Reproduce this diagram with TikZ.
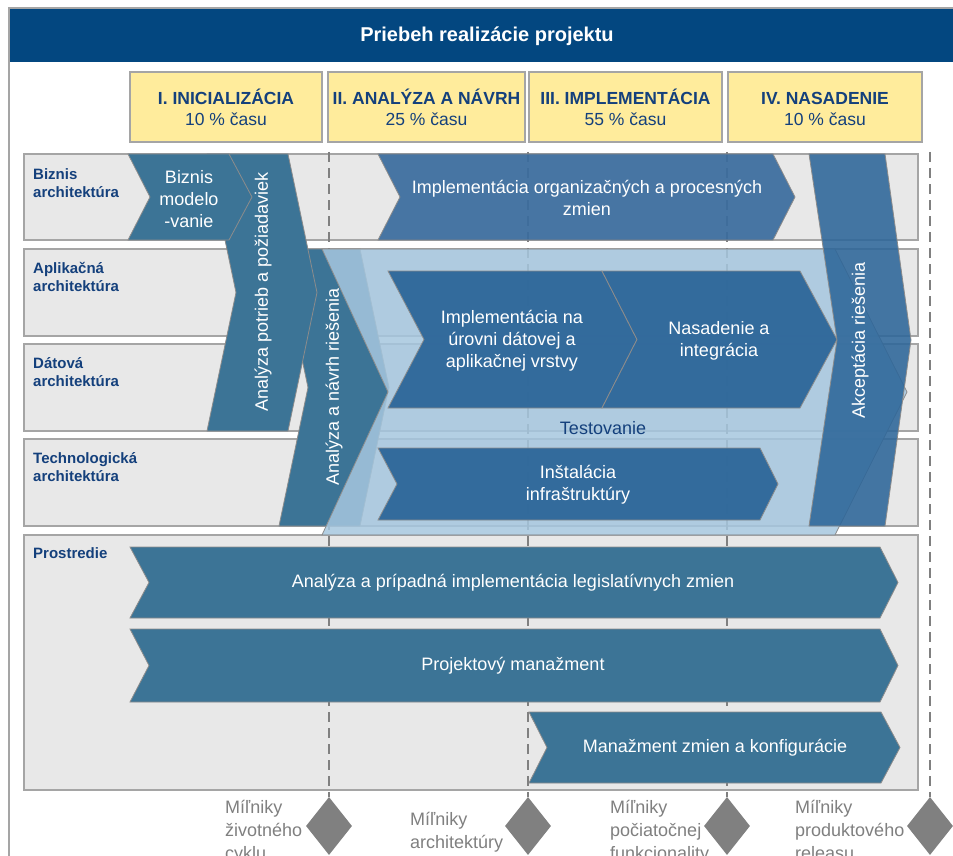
\documentclass[tikz,border=0pt]{standalone}
\usepackage{fontspec}
\setmainfont{Liberation Sans}
\usetikzlibrary{shapes.geometric}

\definecolor{titleblue}{RGB}{3,71,128}
\definecolor{phaseyellow}{RGB}{255,236,156}
\definecolor{labelblue}{RGB}{20,64,124}
\definecolor{rowgray}{RGB}{232,232,232}
\definecolor{framegray}{RGB}{165,165,165}
\definecolor{edgegray}{RGB}{140,140,140}
\definecolor{steel}{RGB}{60,116,150}
\definecolor{bizblue}{RGB}{58,108,158}
\definecolor{darkblue}{RGB}{45,102,153}
\definecolor{testblue}{RGB}{166,199,223}
\definecolor{milegray}{RGB}{128,128,128}

\begin{document}
\begin{tikzpicture}[x=1pt,y=-1pt]

		\tikzstyle{rowbox}=[fill=rowgray,draw=framegray,line width=1.2pt]
		\tikzstyle{phasebox}=[fill=phaseyellow,draw=framegray,line width=1.2pt]
		\tikzstyle{phasetext}=[text=labelblue,align=center,inner sep=0pt,font=\fontsize{17.5}{21}\selectfont]
		\tikzstyle{rowlabel}=[anchor=north west,inner sep=0pt,align=left,text=labelblue,font=\fontsize{15}{18.5}\selectfont\bfseries]
		\tikzstyle{chev}=[fill=steel,draw=edgegray,line width=0.8pt]
		\tikzstyle{innerchev}=[fill=darkblue,draw=edgegray,line width=0.8pt,fill opacity=0.95]
		\tikzstyle{chevtext}=[text=white,align=center,inner sep=0pt,font=\fontsize{18}{22}\selectfont]
		\tikzstyle{milestone}=[shape=diamond,fill=milegray,minimum width=46pt,minimum height=58pt,inner sep=0pt]
		\tikzstyle{miletext}=[anchor=north west,inner sep=0pt,align=left,text=milegray,font=\fontsize{18}{23}\selectfont]
		\tikzstyle{timeline}=[milegray,line width=2.5pt,dash pattern=on 10pt off 6pt]

		\useasboundingbox (0,0) rectangle (953,856);
		\clip (0,0) rectangle (953,856);
		\fill[white] (0,0) rectangle (953,856);

		% title
		\fill[titleblue] (9,8) rectangle (953,62);
		\draw[framegray,line width=1.2pt] (9,856) -- (9,8) -- (953,8);
		\node[text=white,font=\fontsize{20}{24}\selectfont\bfseries] (title) at (487,36) {Priebeh realizácie projektu};

		% phases
		\draw[phasebox] (130,72) rectangle (322,142);
		\draw[phasebox] (328,72) rectangle (525,142);
		\draw[phasebox] (529,72) rectangle (722,142);
		\draw[phasebox] (728,72) rectangle (922,142);
		\node[phasetext] (ph1) at (226,110) {\rule{0pt}{17pt}\textbf{I. INICIALIZÁCIA}\\\strut 10 \% času};
		\node[phasetext] (ph2) at (426.5,110) {\rule{0pt}{17pt}\textbf{II. ANALÝZA A NÁVRH}\\\strut 25 \% času};
		\node[phasetext] (ph3) at (625.5,110) {\rule{0pt}{17pt}\textbf{III. IMPLEMENTÁCIA}\\\strut 55 \% času};
		\node[phasetext] (ph4) at (825,110) {\rule{0pt}{17pt}\textbf{IV. NASADENIE}\\\strut 10 \% času};

		% rows
		\draw[rowbox] (24,154) rectangle (918,240);
		\draw[rowbox] (24,249) rectangle (918,336);
		\draw[rowbox] (24,344) rectangle (918,431);
		\draw[rowbox] (24,439) rectangle (918,526);
		\draw[rowbox] (24,535) rectangle (918,790);
		\node[rowlabel] (biz) at (33,168) {Biznis\\architektúra};
		\node[rowlabel] (apl) at (33,262) {Aplikačná\\architektúra};
		\node[rowlabel] (dat) at (33,357) {Dátová\\architektúra};
		\node[rowlabel] (tech) at (33,452) {Technologická\\architektúra};
		\node[rowlabel] (pros) at (33,547) {Prostredie};

		% milestones
		\foreach \x [count=\i] in {329,528,727,930} {
			\node[milestone] (m\i) at (\x,826) {};
			\coordinate (t\i) at (\x,152);
			\draw[timeline] (t\i) -- (m\i.north);
		}

		% chevrons
		\draw[chev] (279,249) -- (360,249) -- (389,387.5) -- (360,526) -- (279,526) -- (308,387.5) -- cycle;
		\draw[chev] (207,154) -- (288,154) -- (317,292.5) -- (288,431) -- (207,431) -- (236,292.5) -- cycle;
		\draw[chev] (128,154) -- (229,154) -- (252,197) -- (229,240) -- (128,240) -- (150,197) -- cycle;
		\draw[chev,fill=bizblue,fill opacity=0.92] (378,154) -- (773,154) -- (795,197) -- (773,240) -- (378,240) -- (400,197) -- cycle;

		\draw[fill=testblue,fill opacity=0.85,draw=edgegray,line width=0.8pt] (322,249) -- (835,249) -- (907,392) -- (835,535) -- (322,535) -- (388,392) -- cycle;
		\draw[innerchev] (388,271) -- (602,271) -- (637,339.5) -- (602,408) -- (388,408) -- (424,339.5) -- cycle;
		\draw[innerchev] (602,271) -- (800,271) -- (837,339.5) -- (800,408) -- (602,408) -- (637,339.5) -- cycle;
		\draw[innerchev] (378,448) -- (760,448) -- (778,484) -- (760,520) -- (378,520) -- (397,484) -- cycle;
		\draw[innerchev,fill opacity=0.88] (809,154) -- (885,154) -- (911,340) -- (885,526) -- (809,526) -- (837,340) -- cycle;

		\draw[chev] (130,547) -- (880,547) -- (898,582.5) -- (880,618) -- (130,618) -- (149,582.5) -- cycle;
		\draw[chev] (130,629) -- (880,629) -- (898,665.5) -- (880,702) -- (130,702) -- (149,665.5) -- cycle;
		\draw[chev] (529,712) -- (881,712) -- (900,747.5) -- (881,783) -- (529,783) -- (547,747.5) -- cycle;

		% chevron texts
		\node[chevtext] (bmod) at (189,199) {Biznis\\modelo\\-vanie};
		\node[chevtext,rotate=90] (apot) at (263,292) {Analýza potrieb a požiadaviek};
		\node[chevtext,rotate=90] (anav) at (334,387) {Analýza a návrh riešenia};
		\node[chevtext] (iorg) at (587,198) {Implementácia organizačných a procesných\\zmien};
		\node[chevtext] (iudv) at (512,341) {Implementácia na\\úrovni dátovej a\\aplikačnej vrstvy};
		\node[chevtext] (nint) at (719,341) {Nasadenie a\\integrácia};
		\node[chevtext] (inst) at (578,485) {Inštalácia\\infraštruktúry};
		\node[chevtext,text=labelblue] (test) at (603,428) {Testovanie};
		\node[chevtext,rotate=90] (akc) at (860,340) {Akceptácia riešenia};
		\node[chevtext] (leg) at (513,583) {Analýza a prípadná implementácia legislatívnych zmien};
		\node[chevtext] (pm) at (513,666) {Projektový manažment};
		\node[chevtext] (mzk) at (715,748) {Manažment zmien a konfigurácie};

		% milestone texts
		\node[miletext] (ml1) at (225,800) {Míľniky\\životného\\cyklu};
		\node[miletext] (ml2) at (410,812) {Míľniky\\architektúry};
		\node[miletext] (ml3) at (610,800) {Míľniky\\počiatočnej\\funkcionality};
		\node[miletext] (ml4) at (795,800) {Míľniky\\produktového\\releasu};

\end{tikzpicture}
\end{document}
